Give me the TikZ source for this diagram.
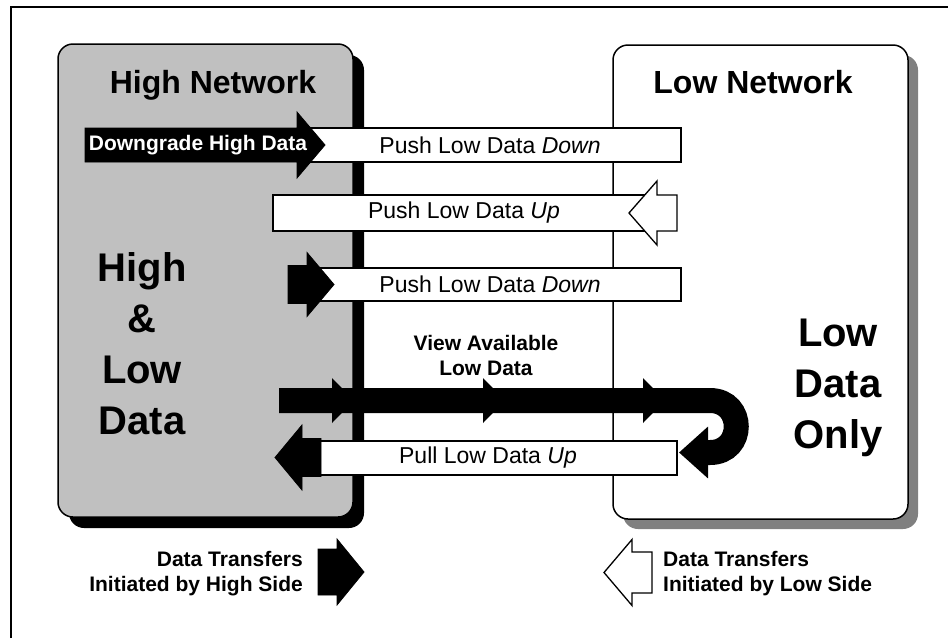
\documentclass[tikz,border=0pt]{standalone}
\usepackage{fontspec}
\setmainfont{Liberation Sans}
\usepackage{xcolor}
\usepackage{tikz}
\usetikzlibrary{positioning,arrows.meta,shadows}
\definecolor{hifill}{HTML}{C0C0C0}
\definecolor{loshade}{HTML}{808080}
% block arrow: style, tip, head length, head half width, shaft half width, shaft length
\newcommand{\blockarrow}[6]{%
  \path[#1] #2 -- ++({-(#3)},{-(#4)}) -- ++(0,{(#4)-(#5)}) -- ++({-(#6)},0)
    -- ++(0,{2*(#5)}) -- ++({#6},0) -- ++(0,{(#4)-(#5)}) -- cycle;}

\begin{document}
\begin{tikzpicture}[x=1pt, y=-1pt,
    net/.style={draw, line width=1.5pt, rounded corners=15pt, inner sep=0pt},
    bar/.style={draw, fill=white, line width=1.3pt, inner sep=0pt, minimum width=382pt, minimum height=34pt, font=\fontsize{23}{27}\selectfont},
    title/.style={font=\fontsize{32}{38}\selectfont\bfseries, inner sep=0pt, anchor=base},
    big/.style={font=\fontsize{40}{51}\selectfont\bfseries, align=center, inner sep=0pt},
    lbl/.style={font=\fontsize{21}{25}\selectfont\bfseries, inner sep=0pt},
    hiarr/.style={fill=black, draw=black, line width=0.8pt},
    loarr/.style={fill=white, draw=black, line width=1.3pt}]
    \useasboundingbox (0,0) rectangle (948,638);
    % frame
    \draw[line width=1.2pt] (11,638) -- (11,7) -- (948,7);
    % networks
    \node[net, fill=hifill, minimum width=295pt, minimum height=473pt,
      drop shadow={opacity=1, fill=black, shadow xshift=11pt, shadow yshift=-11pt}] (hinet) at (205.5,280.5) {};
    \node[net, fill=white, minimum width=295pt, minimum height=474pt,
      drop shadow={opacity=1, fill=loshade, shadow xshift=10pt, shadow yshift=-10pt}] (lonet) at (760.5,282) {};
    \node[title] (hititle) at (213,93) {High Network};
    \node[title] (lotitle) at (753,93) {Low Network};
    \node[big] (hilow) at (142,344) {High\\\&\\Low\\Data};
    \node[big] (lowonly) at (838,388) {Low\\Data\\Only};
    % downgrade + push down
    \node[bar] (push1) at (490,145) {Push Low Data \textit{Down}};
    \blockarrow{hiarr}{(325,145)}{28}{33}{17}{212}
    \node[lbl, text=white] (downgrade) at (198,145) {Downgrade High Data};
    % push up
    \node[bar, minimum height=36pt] (push2) at (464,213) {Push Low Data \textit{Up}};
    \blockarrow{loarr}{(629,213)}{-28}{32}{18}{-20}
    % push down
    \node[bar, minimum height=33pt] (push3) at (490,284.5) {Push Low Data \textit{Down}};
    \blockarrow{hiarr}{(334,284.5)}{27}{32}{19}{19}
    % view available low data
    \node[lbl, align=center] (view) at (486,355) {View Available\\Low Data};
    \coordinate (vstart) at (279,400.5);
    \coordinate (vturn) at (710,400.5);
    \coordinate (vback) at (710,452.5);
    \coordinate (vend) at (679,452.5);
    \draw[line width=25pt, -{Triangle[length=29pt,width=50pt]}]
      (vstart) -- (vturn) .. controls (745,400.5) and (745,452.5) .. (vback) -- (vend);
    \foreach \mx in {332,483,643}
      \fill (\mx,378) -- (\mx+22,400.5) -- (\mx,423) -- cycle;
    % pull up
    \node[bar, minimum width=378pt] (pull) at (488,458) {Pull Low Data \textit{Up}};
    \blockarrow{hiarr}{(275,457.5)}{-27}{32.5}{19}{-19}
    % legend
    \blockarrow{hiarr}{(364,572)}{27}{33}{23}{19}
    \node[lbl, align=right, anchor=east] (hilegend) at (303,574) {Data Transfers\\Initiated by High Side};
    \blockarrow{loarr}{(604,572.5)}{-28}{33}{20.5}{-20}
    \node[lbl, align=left, anchor=west] (lolegend) at (663,574) {Data Transfers\\Initiated by Low Side};
\end{tikzpicture}
\end{document}
